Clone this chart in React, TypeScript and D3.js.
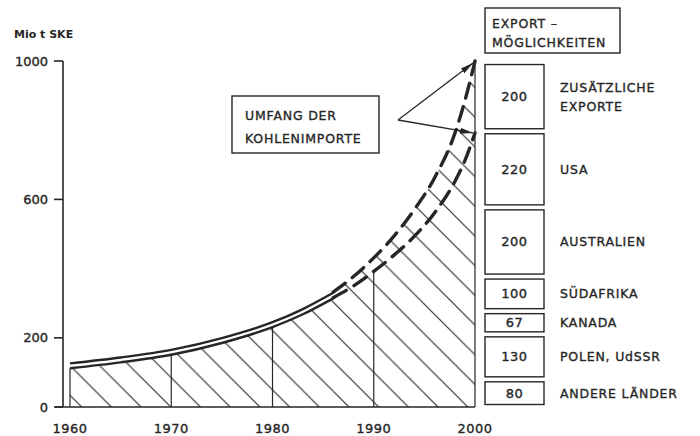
import React from 'react';
import * as d3 from 'd3';

// import volume, solid part (double line)
const solidYears = [1960, 1965, 1970, 1975, 1980, 1983, 1986];
const solidLower = [112, 129, 151, 185, 231, 268, 314];
const solidUpper = [126, 143, 165, 199, 245, 283, 330];

// forecast part (dashed)
const dashYears = [1986, 1988, 1990, 1992, 1994, 1996, 1998, 1999, 2000];
const dashLower = [316, 350, 392, 439, 493, 561, 651, 712, 792];
const dashUpper = [332, 377, 431, 494, 570, 662, 790, 885, 1000];

const decades = [1960, 1970, 1980, 1990, 2000];
const yTicks = [0, 200, 600, 1000];

// export capacity, bottom to top
const exportValues = [80, 130, 67, 100, 200, 220, 200];
const exportLabels = [
  ['ANDERE LÄNDER'],
  ['POLEN, UdSSR'],
  ['KANADA'],
  ['SÜDAFRIKA'],
  ['AUSTRALIEN'],
  ['USA'],
  ['ZUSÄTZLICHE', 'EXPORTE'],
];

const ink = '#262626';
const font = '"DejaVu Sans", sans-serif';
// lettering is a bit heavier than the regular face
const txt = { fontFamily: font, fill: ink, stroke: ink, strokeWidth: 0.35 };

export default function App() {
  const W = 700, H = 436;
  const x = d3.scaleLinear().domain([1960, 2000]).range([70, 475]);
  const y = d3.scaleLinear().domain([0, 1000]).range([407, 61]);

  const line = d3.line<[number, number]>()
    .x(d => x(d[0])).y(d => y(d[1])).curve(d3.curveMonotoneX);
  const area = d3.area<[number, number]>()
    .x(d => x(d[0])).y0(y(0)).y1(d => y(d[1])).curve(d3.curveMonotoneX);

  const zip = (xs: number[], vs: number[]) => xs.map((v, i) => [v, vs[i]] as [number, number]);
  const sLow = zip(solidYears, solidLower);
  const sUp = zip(solidYears, solidUpper);
  const dLow = zip(dashYears, dashLower);
  const dUp = zip(dashYears, dashUpper);

  const lowerAt = (yr: number) => {
    const i = solidYears.indexOf(yr);
    if (i >= 0) return solidLower[i];
    return dashLower[dashYears.indexOf(yr)];
  };

  // stacked export boxes
  let cum = 0;
  const boxes = exportValues.map((v, i) => {
    const b = { v, lab: exportLabels[i], y0: y(cum + v) + 2.5, y1: y(cum) - 2.5 };
    cum += v;
    return b;
  });

  const hw = 29.7;
  const arrowFrom = [398, 120];

  return (
    <svg width={W} height={H} style={{ display: 'block', position: 'absolute', left: 0, top: 0, background: '#fff' }}>
      <defs>
        <pattern id="hatch" patternUnits="userSpaceOnUse" x={81.7} y={407} width={hw} height={hw}>
          <path d={`M0,0 L${hw},${hw} M${hw - 1},-1 L${hw + 1},1 M-1,${hw - 1} L1,${hw + 1}`}
            stroke={ink} strokeWidth={1.1} fill="none" />
        </pattern>
        <marker id="ah" markerUnits="userSpaceOnUse" markerWidth={14} markerHeight={8}
          refX={13} refY={4} orient="auto">
          <path d="M0,1 L13,4 L0,7 z" fill={ink} />
        </marker>
      </defs>

      {/* unit */}
      <text x={14} y={38} fontFamily={font} fontWeight="bold" fontSize={11} fill={ink}>Mio t SKE</text>

      {/* hatched import area */}
      <path d={area(sLow) || ''} fill="url(#hatch)" />
      <path d={area(dUp) || ''} fill="url(#hatch)" />

      {/* decade verticals */}
      {decades.map(d => (
        <line key={d} x1={x(d)} x2={x(d)} y1={y(0)}
          y2={d === 2000 ? y(dashUpper[dashUpper.length - 1]) : y(lowerAt(d))}
          stroke={ink} strokeWidth={1.2} />
      ))}

      {/* axes */}
      <line x1={63} x2={63} y1={y(1000)} y2={y(0)} stroke={ink} strokeWidth={1.6} />
      <line x1={55} x2={x(2000)} y1={y(0)} y2={y(0)} stroke={ink} strokeWidth={1.6} />
      {yTicks.map(t => (
        <g key={t}>
          <line x1={54} x2={63} y1={y(t)} y2={y(t)} stroke={ink} strokeWidth={1.6} />
          <text x={48} y={y(t)} textAnchor="end" dominantBaseline="central"
            fontSize={13} {...txt}>{t}</text>
        </g>
      ))}
      {decades.map(d => (
        <text key={d} x={x(d)} y={428} textAnchor="middle" dominantBaseline="central"
          fontSize={13} letterSpacing={0.5} {...txt}>{d}</text>
      ))}

      {/* curves */}
      <path d={line(sLow) || ''} fill="none" stroke={ink} strokeWidth={2.4} />
      <path d={line(sUp) || ''} fill="none" stroke={ink} strokeWidth={2.4} />
      <path d={line(dLow) || ''} fill="none" stroke={ink} strokeWidth={3.4}
        strokeDasharray="15 9" strokeLinecap="round" />
      <path d={line(dUp) || ''} fill="none" stroke={ink} strokeWidth={3.4}
        strokeDasharray="15 9" strokeLinecap="round" />

      {/* annotation */}
      <rect x={232} y={96} width={147} height={57} fill="#fff" stroke={ink} strokeWidth={1.4} />
      <text x={245} y={120} fontSize={12.5} letterSpacing={0.8} {...txt}>UMFANG  DER</text>
      <text x={245} y={143} fontSize={12.5} letterSpacing={0.8} {...txt}>KOHLENIMPORTE</text>
      <line x1={arrowFrom[0]} y1={arrowFrom[1]} x2={x(2000) - 2} y2={y(1000) + 2}
        stroke={ink} strokeWidth={1.3} markerEnd="url(#ah)" />
      <line x1={arrowFrom[0]} y1={arrowFrom[1]} x2={x(2000) - 2} y2={y(dashLower[dashLower.length - 1])}
        stroke={ink} strokeWidth={1.3} markerEnd="url(#ah)" />

      {/* export column */}
      <rect x={485} y={8} width={135} height={45} fill="#fff" stroke={ink} strokeWidth={1.4} />
      <text x={492} y={28} fontSize={12.5} letterSpacing={0.8} {...txt}>EXPORT –</text>
      <text x={492} y={47} fontSize={12.5} letterSpacing={0.8} {...txt}>MÖGLICHKEITEN</text>
      {boxes.map((b, i) => {
        const cy = (b.y0 + b.y1) / 2;
        return (
          <g key={i}>
            <rect x={485} y={b.y0} width={59} height={b.y1 - b.y0} fill="#fff" stroke={ink} strokeWidth={1.4} />
            <text x={514.5} y={cy} textAnchor="middle" dominantBaseline="central"
              fontSize={13} letterSpacing={0.5} {...txt}>{b.v}</text>
            {b.lab.map((l, j) => (
              <text key={j} x={560} y={cy + (j - (b.lab.length - 1) / 2) * 19}
                dominantBaseline="central" fontSize={12.5} letterSpacing={0.8} {...txt}>{l}</text>
            ))}
          </g>
        );
      })}
    </svg>
  );
}
